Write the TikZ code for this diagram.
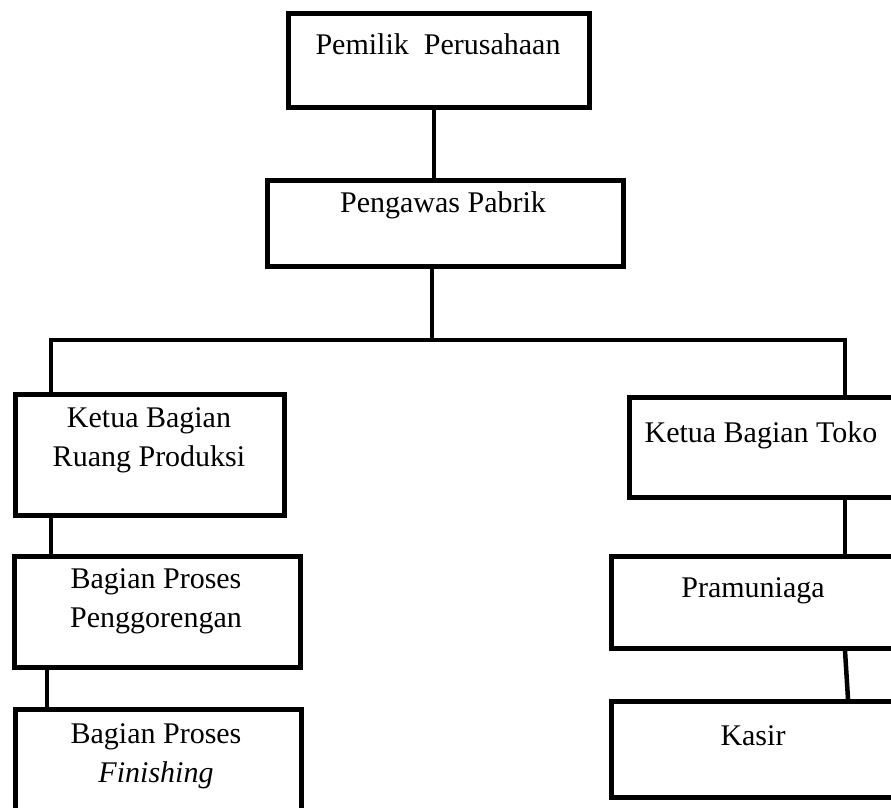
\documentclass[tikz,border=0pt]{standalone}
\usepackage{fontspec}
\setmainfont{Liberation Serif}

\begin{document}
\begin{tikzpicture}[x=1pt,y=-1pt,
  kotak/.style={draw,line width=4.5pt,inner sep=0pt,anchor=north west},
  teks/.style={anchor=base,align=center,font=\fontsize{30}{39}\selectfont},
  garis/.style={line width=4.5pt}]
\useasboundingbox (0,0) rectangle (891,807);
\clip (0,0) rectangle (891,807);
% kotak
\node[kotak,minimum width=301pt,minimum height=94pt] (pemilik) at (286,11) {};
\node[kotak,minimum width=356pt,minimum height=86pt] (pengawas) at (265,178) {};
\node[kotak,minimum width=269pt,minimum height=121pt] (ketuaprod) at (13,392) {};
\node[kotak,minimum width=286pt,minimum height=111pt] (goreng) at (12,554) {};
\node[kotak,minimum width=286pt,minimum height=133pt] (finishing) at (13,707) {};
\node[kotak,minimum width=268pt,minimum height=100pt] (toko) at (627,395) {};
\node[kotak,minimum width=288pt,minimum height=92pt] (pram) at (609,554) {};
\node[kotak,minimum width=288pt,minimum height=96pt] (kasir) at (609,699) {};
% teks (baris terakhir di base)
\node[teks] (pemiliktx) at (438,54) {Pemilik\ \ Perusahaan};
\node[teks] (pengawastx) at (443,212) {Pengawas Pabrik};
\node[teks] (ketuaprodtx) at (149,466) {Ketua Bagian\\Ruang Produksi};
\node[teks] (gorengtx) at (156,627) {Bagian Proses\\Penggorengan};
\node[teks] (finishingtx) at (156,782) {Bagian Proses\\\textit{Finishing}};
\node[teks] (tokotx) at (761,442) {Ketua Bagian Toko};
\node[teks] (pramtx) at (753,597) {Pramuniaga};
\node[teks] (kasirtx) at (753,745) {Kasir};
% garis
\coordinate (atas) at (434,0);
\coordinate (cabang) at (432,340);
\coordinate (kiri) at (51,340);
\coordinate (kanan) at (845,340);
\coordinate (kiribawah) at (47,0);
\coordinate (kananbawah) at (848,0);
\draw[garis] (pemilik.south -| atas) -- (pengawas.north -| atas);
\draw[garis] ([yshift=4]pengawas.south -| cabang) -- (cabang);
\draw[garis] (ketuaprod.north -| kiri) -- (kiri) -- (kanan) -- (toko.north -| kanan);
\draw[garis] (ketuaprod.south -| kiri) -- (goreng.north -| kiri);
\draw[garis] (goreng.south -| kiribawah) -- (finishing.north -| kiribawah);
\draw[garis] (toko.south -| kanan) -- (pram.north -| kanan);
\draw[garis] (pram.south -| kanan) -- (kasir.north -| kananbawah);
\end{tikzpicture}
\end{document}
